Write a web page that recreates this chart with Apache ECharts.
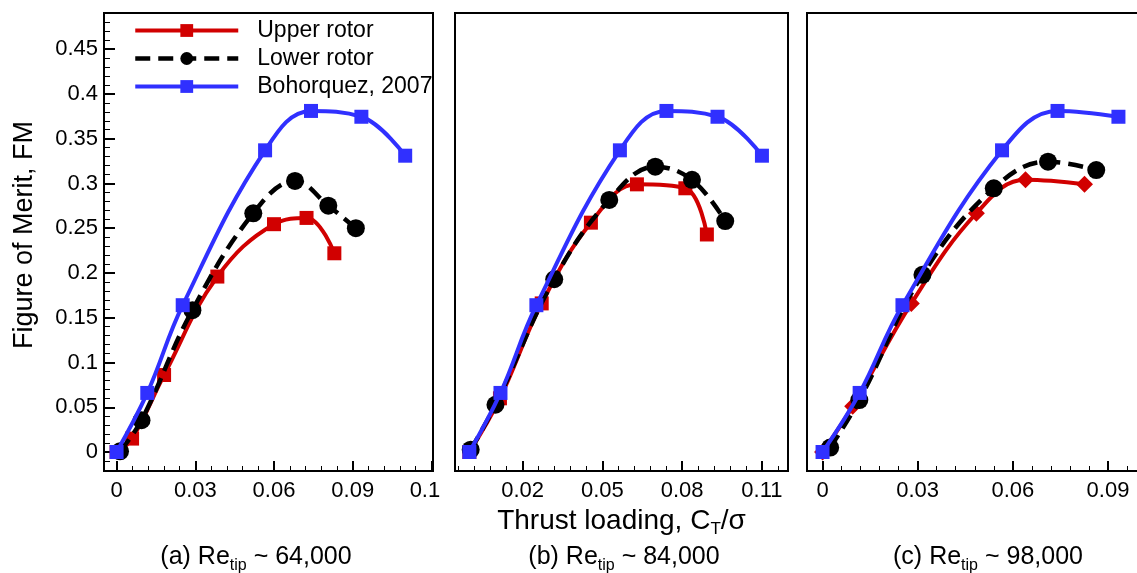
<!DOCTYPE html>
<html>
<head>
<meta charset="utf-8">
<script src="https://cdn.jsdelivr.net/npm/echarts@6/dist/echarts.min.js"></script>
<style>html,body{margin:0;padding:0;background:#fff}#c{width:1137px;height:573px}</style>
</head>
<body>
<div id="c"></div>
<script>
// ---------------- data ----------------
const seriesNames = ['Upper rotor', 'Lower rotor', 'Bohorquez, 2007'];

// Bohorquez, 2007 (same reference data in every panel)
const bohX = [0, 0.0117, 0.0252, 0.0566, 0.0741, 0.0933, 0.1100];
const bohY = [0, 0.066, 0.164, 0.337, 0.381, 0.3745, 0.331];
const bohCX = [0, 0.0117, 0.0252, 0.0566, 0.0741, 0.0933];
const bohCY = [0, 0.066, 0.164, 0.337, 0.381, 0.3745];

// (a) Re_tip ~ 64,000
const upperAX = [0, 0.0059, 0.0181, 0.0384, 0.0600, 0.0724, 0.0830];
const upperAY = [0, 0.0150, 0.0860, 0.1960, 0.2545, 0.2615, 0.2220];
const lowerAX = [0.0013, 0.0095, 0.0289, 0.0521, 0.0680, 0.0807, 0.0912];
const lowerAY = [0.0008, 0.0355, 0.1585, 0.2667, 0.3028, 0.2752, 0.2500];

// (b) Re_tip ~ 84,000
const upperBX = [0, 0.0115, 0.0272, 0.0457, 0.0630, 0.0812, 0.0893];
const upperBY = [0, 0.0600, 0.1660, 0.2562, 0.2990, 0.2946, 0.2430];
const lowerBX = [0.0005, 0.0098, 0.0319, 0.0526, 0.0699, 0.0837, 0.0962];
const lowerBY = [0.0026, 0.0528, 0.1930, 0.2816, 0.3187, 0.3040, 0.2580];

// (c) Re_tip ~ 98,000
const upperCX = [0, 0.0095, 0.0280, 0.0485, 0.0640, 0.0826];
const upperCY = [0, 0.0510, 0.1660, 0.2667, 0.3040, 0.2990];
const lowerCX = [0.0024, 0.0116, 0.0315, 0.0540, 0.0711, 0.0863];
const lowerCY = [0.0050, 0.0580, 0.1980, 0.2946, 0.3243, 0.3150];

// ticks
const yTicks = [0, 0.05, 0.1, 0.15, 0.2, 0.25, 0.3, 0.35, 0.4, 0.45];
const yTickLabels = ['0', '0.05', '0.1', '0.15', '0.2', '0.25', '0.3', '0.35', '0.4', '0.45'];
const xTicksA = [0, 0.03, 0.06, 0.09, 0.12];
const xLabelsA = ['0', '0.03', '0.06', '0.09', '0.1'];
const xTicksB = [0.02, 0.05, 0.08, 0.11];
const xLabelsB = ['0.02', '0.05', '0.08', '0.11'];
const xTicksC = [0, 0.03, 0.06, 0.09];
const xLabelsC = ['0', '0.03', '0.06', '0.09'];

const panelTitles = [
  ['(a) Re', 'tip', ' ~ 64,000'],
  ['(b) Re', 'tip', ' ~ 84,000'],
  ['(c) Re', 'tip', ' ~ 98,000']
];
const yTitle = 'Figure of Merit, FM';
const xTitle = ['Thrust loading, C', 'T', '/σ'];

// ---------------- layout / style ----------------
const FONT = '"Liberation Sans", Arial, Helvetica, sans-serif';
const RED = '#d10000', BLUE = '#3030ff', BLACK = '#000000';
const Y_MIN = -0.0212, Y_MAX = 0.4904;
const xRanges = [[-0.0048, 0.1206], [-0.0054, 0.1198], [-0.0049, 0.1001]];
const gridBoxes = [
  {left: 104, top: 13, width: 329, height: 458},
  {left: 455, top: 13, width: 333, height: 458},
  {left: 807, top: 13, width: 333, height: 458}
];
const titleCenters = [256, 624, 988];

function minorTicks(from, to, step, majors) {
  const out = [];
  const n = Math.round((to - from) / step);
  for (let i = 0; i <= n; i++) {
    const v = +(from + i * step).toFixed(6);
    if (!majors.some(m => Math.abs(m - v) < 1e-9)) out.push(v);
  }
  return out;
}
function labelFmt(ticks, labels) {
  return v => {
    const i = ticks.findIndex(t => Math.abs(t - v) < 1e-9);
    if (i < 0) return '';
    if (v > 0.115 && labels[i] === '0.1') return '{cut|0.1}';
    return labels[i];
  };
}
function pairs(xs, ys) { return xs.map((x, i) => [x, ys[i]]); }

const xMajors = [xTicksA, xTicksB, xTicksC];
const xLabels = [xLabelsA, xLabelsB, xLabelsC];
const xMinors = [
  minorTicks(0, 0.12, 0.006, xTicksA),
  minorTicks(-0.004, 0.116, 0.006, xTicksB),
  minorTicks(0, 0.096, 0.006, xTicksC)
];
const yMinors = minorTicks(-0.01, 0.48, 0.01, yTicks);

const xAxis = [], yAxis = [];
for (let g = 0; g < 3; g++) {
  const [mn, mx] = xRanges[g];
  const major = {
    type: 'value', gridIndex: g, min: mn, max: mx, position: 'bottom',
    axisLine: {show: false, onZero: false}, splitLine: {show: false},
    axisTick: {show: true, inside: true, length: 10, customValues: xMajors[g],
      lineStyle: {color: BLACK, width: 2}},
    axisLabel: {show: true, customValues: xMajors[g], margin: 9, fontSize: 22,
      color: BLACK, fontFamily: FONT, formatter: labelFmt(xMajors[g], xLabels[g]),
      rich: {cut: {fontSize: 22, fontFamily: FONT, color: BLACK, padding: [0, 13, 0, 0]}}}
  };
  if (g === 1) {
    major.name = '{n|' + xTitle[0] + '}{s|' + xTitle[1] + '}{n|' + xTitle[2] + '}';
    major.nameLocation = 'middle';
    major.nameGap = 27;
    major.nameTextStyle = {
      fontFamily: FONT, color: BLACK,
      rich: {
        n: {fontSize: 28, fontFamily: FONT, color: BLACK, verticalAlign: 'top', lineHeight: 28},
        s: {fontSize: 17, fontFamily: FONT, color: BLACK, verticalAlign: 'top', lineHeight: 17, padding: [14, 0, 0, 0]}
      }
    };
  }
  xAxis.push(major);
  xAxis.push({
    type: 'value', gridIndex: g, min: mn, max: mx, position: 'bottom',
    axisLine: {show: false, onZero: false}, splitLine: {show: false}, axisLabel: {show: false},
    axisTick: {show: true, inside: true, length: 5, customValues: xMinors[g],
      lineStyle: {color: BLACK, width: 1}}
  });

  if (g === 0) {
    yAxis.push({
      type: 'value', gridIndex: 0, min: Y_MIN, max: Y_MAX, position: 'left',
      axisLine: {show: false, onZero: false}, splitLine: {show: false},
      axisTick: {show: true, inside: true, length: 11, customValues: yTicks,
        lineStyle: {color: BLACK, width: 2}},
      axisLabel: {show: true, customValues: yTicks, margin: 6, fontSize: 22,
        color: BLACK, fontFamily: FONT, formatter: labelFmt(yTicks, yTickLabels)},
      name: yTitle, nameLocation: 'middle', nameGap: 66, nameRotate: 90,
      nameTextStyle: {fontSize: 27, fontFamily: FONT, color: BLACK, padding: [0, 0, 0, 14]}
    });
    yAxis.push({
      type: 'value', gridIndex: 0, min: Y_MIN, max: Y_MAX, position: 'left',
      axisLine: {show: false, onZero: false}, splitLine: {show: false}, axisLabel: {show: false},
      axisTick: {show: true, inside: true, length: 6, customValues: yMinors,
        lineStyle: {color: BLACK, width: 1}}
    });
  } else {
    yAxis.push({
      type: 'value', gridIndex: g, min: Y_MIN, max: Y_MAX,
      axisLine: {show: false, onZero: false}, splitLine: {show: false},
      axisTick: {show: false}, axisLabel: {show: false}
    });
  }
}
const yIdx = [0, 2, 3];

const panelData = [
  {upper: pairs(upperAX, upperAY), lower: pairs(lowerAX, lowerAY), boh: pairs(bohX, bohY), upperSym: 'rect', upperSize: 14},
  {upper: pairs(upperBX, upperBY), lower: pairs(lowerBX, lowerBY), boh: pairs(bohX, bohY), upperSym: 'rect', upperSize: 14},
  {upper: pairs(upperCX, upperCY), lower: pairs(lowerCX, lowerCY), boh: pairs(bohCX, bohCY), upperSym: 'diamond', upperSize: 17}
];

const series = [];
panelData.forEach((p, g) => {
  const common = {type: 'line', xAxisIndex: 2 * g, yAxisIndex: yIdx[g], smooth: 0.4,
    animation: false, showAllSymbol: true};
  series.push(Object.assign({}, common, {
    name: seriesNames[0], data: p.upper, symbol: p.upperSym, symbolSize: p.upperSize,
    itemStyle: {color: RED}, lineStyle: {color: RED, width: 4}, z: 2
  }));
  series.push(Object.assign({}, common, {
    name: seriesNames[1], data: p.lower, symbol: 'circle', symbolSize: 18,
    itemStyle: {color: BLACK}, lineStyle: {color: BLACK, width: 4.5, type: [15, 8]}, z: 3
  }));
  series.push(Object.assign({}, common, {
    name: seriesNames[2], data: p.boh, symbol: 'rect', symbolSize: 14,
    itemStyle: {color: BLUE}, lineStyle: {color: BLUE, width: 4}, z: 4
  }));
});

const richSub = {
  n: {fontSize: 25, fontFamily: FONT, fill: BLACK, verticalAlign: 'top', lineHeight: 25},
  s: {fontSize: 16, fontFamily: FONT, fill: BLACK, verticalAlign: 'top', lineHeight: 16, padding: [13, 0, 0, 0]}
};
const graphic = panelTitles.map((t, i) => ({
  type: 'text', x: titleCenters[i], y: 545,
  style: {
    text: '{n|' + t[0] + '}{s|' + t[1] + '}{n|' + t[2] + '}',
    rich: richSub, align: 'center', verticalAlign: 'top',
    fontFamily: FONT, fontSize: 25, fill: BLACK
  }
}));

const option = {
  backgroundColor: '#ffffff',
  animation: false,
  grid: gridBoxes.map(b => Object.assign({show: true, borderColor: BLACK, borderWidth: 2,
    backgroundColor: 'transparent', containLabel: false, outerBoundsMode: 'none'}, b)),
  xAxis: xAxis,
  yAxis: yAxis,
  legend: {
    orient: 'vertical', left: 133, top: 19, padding: 0,
    itemWidth: 103, itemHeight: 16, itemGap: 5, selectedMode: false,
    data: seriesNames,
    lineStyle: {width: 'inherit'},
    textStyle: {fontSize: 23, lineHeight: 23, color: BLACK, fontFamily: FONT, padding: [0, 0, 0, 14]}
  },
  graphic: graphic,
  series: series
};

const chart = echarts.init(document.getElementById('c'), null, {renderer: 'canvas'});
chart.setOption(option);
</script>
</body>
</html>
